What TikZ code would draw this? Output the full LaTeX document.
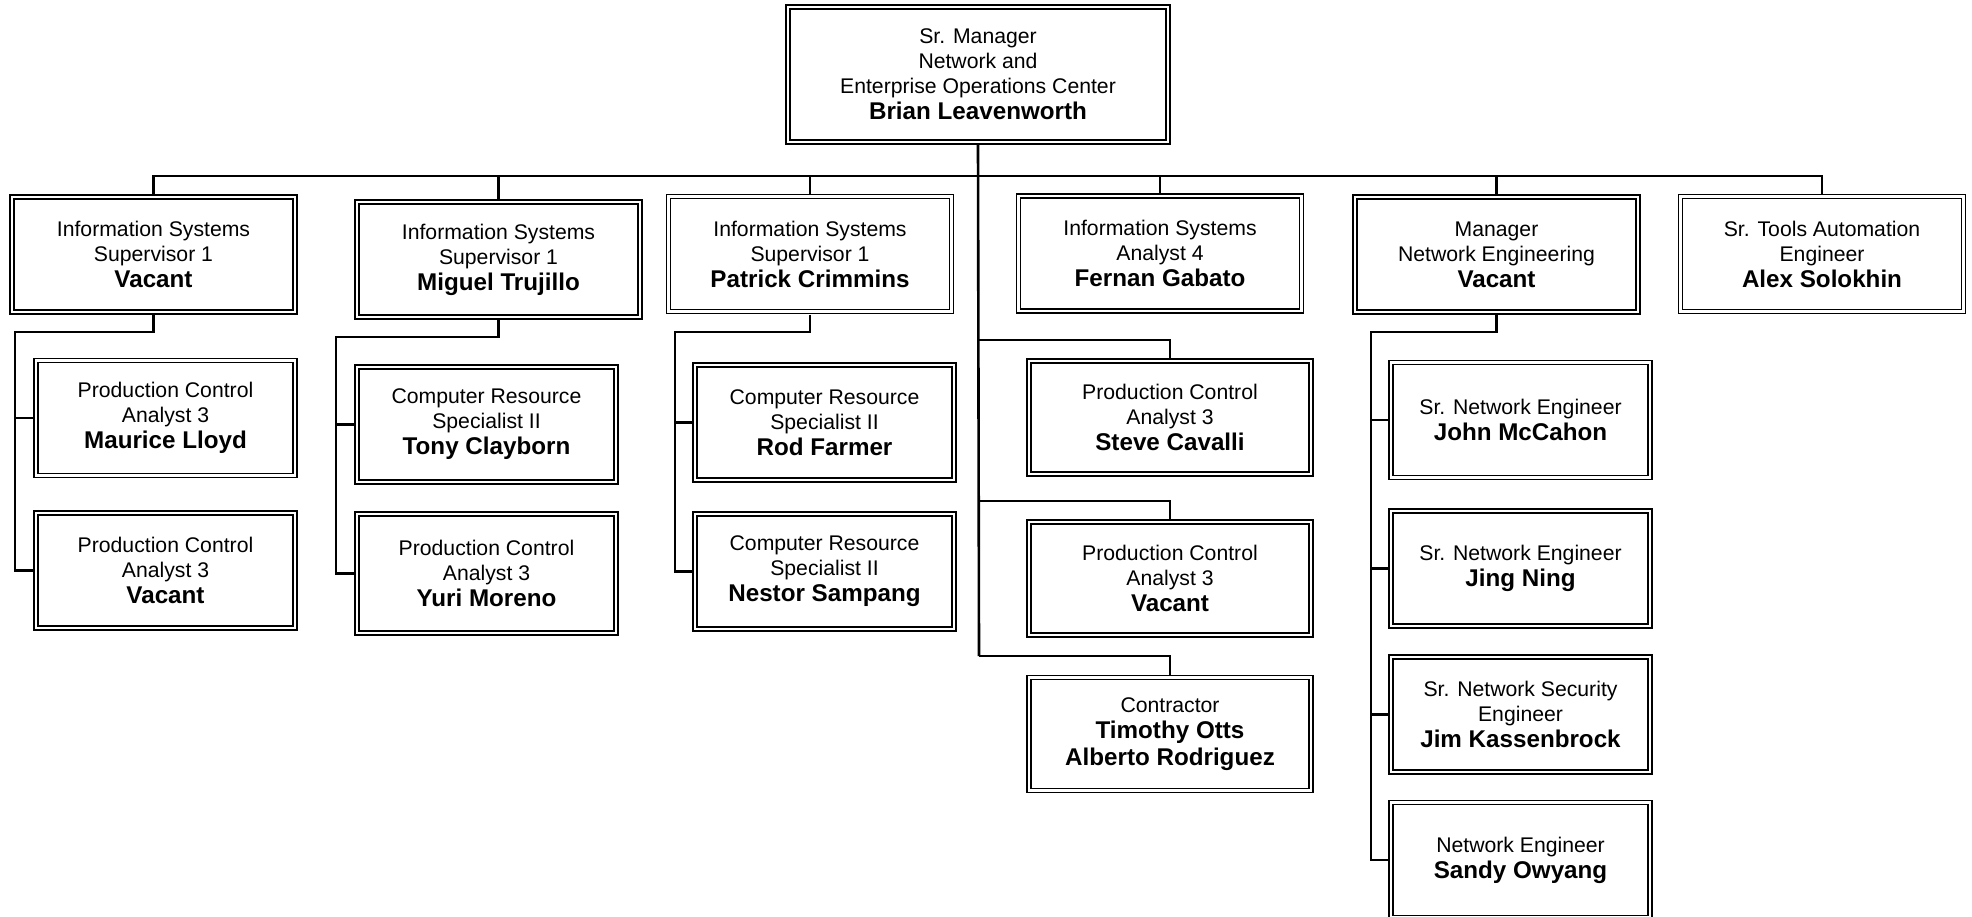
\documentclass[tikz,border=0pt]{standalone}
\usepackage{fontspec}
\setmainfont{Liberation Sans}
\usetikzlibrary{calc}
\newcommand{\who}[1]{{\fontsize{24.2}{25}\selectfont\bfseries #1}}

\begin{document}
\begin{tikzpicture}[x=1pt,y=-1pt,inner sep=1pt]
\tikzstyle{post}=[rectangle,draw,double,line width=1.7pt,double distance=2.4pt,outer sep=3pt,align=center,minimum width=283pt,minimum height=115pt,font=\fontsize{21.2}{25}\selectfont]
\tikzstyle{subpost}=[post,minimum width=259pt]
\tikzstyle{teampost}=[post,minimum width=282pt,minimum height=113pt]
\tikzstyle{link}=[line width=2.2pt]
\useasboundingbox (0,0) rectangle (1972,916);
% top
\node[post,minimum width=380pt,minimum height=135pt] (boss) at (978,74.5) {Sr. Manager\\Network and\\Enterprise Operations Center\\[1pt]\who{Brian Leavenworth}};
% first row
\node[post] (sup1) at (153.5,254.5) {Information Systems\\Supervisor 1\\[1pt]\who{Vacant}};
\node[post] (sup2) at (498.5,259.5) {Information Systems\\Supervisor 1\\[1pt]\who{Miguel Trujillo}};
\node[post] (sup3) at (810,254) {Information Systems\\Supervisor 1\\[1pt]\who{Patrick Crimmins}};
\node[post] (ana4) at (1160,253.5) {Information Systems\\Analyst 4\\[1pt]\who{Fernan Gabato}};
\node[post] (mgr) at (1496.5,254.5) {Manager\\Network Engineering\\[1pt]\who{Vacant}};
\node[post] (tools) at (1822,254) {Sr. Tools Automation\\Engineer\\[1pt]\who{Alex Solokhin}};
% staff
\node[subpost] (pc1) at (165.5,418) {Production Control\\Analyst 3\\[1pt]\who{Maurice Lloyd}};
\node[subpost] (pc2) at (165.5,570.5) {Production Control\\Analyst 3\\[1pt]\who{Vacant}};
\node[subpost] (crs1) at (486.5,424.5) {Computer Resource\\Specialist II\\[1pt]\who{Tony Clayborn}};
\node[subpost,minimum height=119pt] (pc3) at (486.5,573.5) {Production Control\\Analyst 3\\[1pt]\who{Yuri Moreno}};
\node[subpost] (crs2) at (824.5,422.5) {Computer Resource\\Specialist II\\[1pt]\who{Rod Farmer}};
\node[subpost] (crs3) at (824.5,571.5) {Computer Resource\\Specialist II\\[1pt]\who{Nestor Sampang}};
\node[teampost] (pc4) at (1170,417.5) {Production Control\\Analyst 3\\[1pt]\who{Steve Cavalli}};
\node[teampost] (pc5) at (1170,578.5) {Production Control\\Analyst 3\\[1pt]\who{Vacant}};
\node[teampost] (cont) at (1170,734) {Contractor\\[1pt]\who{Timothy Otts}\\[2pt]\who{Alberto Rodriguez}};
\node[subpost] (ne1) at (1520.5,420) {Sr. Network Engineer\\[1pt]\who{John McCahon}};
\node[subpost] (ne2) at (1520.5,568.5) {Sr. Network Engineer\\[1pt]\who{Jing Ning}};
\node[subpost] (ne3) at (1520.5,714.5) {Sr. Network Security\\Engineer\\[1pt]\who{Jim Kassenbrock}};
\node[subpost] (ne4) at (1520.5,860) {Network Engineer\\[1pt]\who{Sandy Owyang}};
% joints
\coordinate (bus) at (979,176);
\coordinate (j1) at (979,340);
\coordinate (j2) at (979,501);
\coordinate (j3) at (979,656);
\coordinate (b1) at (15,332);
\coordinate (b2) at (336,337);
\coordinate (b3) at (675,332);
\coordinate (b5) at (1371,332);
% lines
\draw[link,line width=2.6pt] (boss.south) -- (j3);
\draw[link] (sup1.north) |- (bus) -| (tools.north);
\foreach \n in {sup2,sup3,ana4,mgr}
  \draw[link] (\n.north) -- (\n.north |- bus);
\draw[link] (sup1.south) |- (b1) |- (pc2.west);
\draw[link] (b1) |- (pc1.west);
\draw[link] (sup2.south) |- (b2) |- (pc3.west);
\draw[link] (b2) |- (crs1.west);
\draw[link] (sup3.south) |- (b3) |- (crs3.west);
\draw[link] (b3) |- (crs2.west);
\draw[link] (j1) -| (pc4.north);
\draw[link] (j2) -| (pc5.north);
\draw[link] (j3) -| (cont.north);
\draw[link] (mgr.south) |- (b5) |- (ne4.west);
\foreach \n in {ne1,ne2,ne3}
  \draw[link] (b5) |- (\n.west);
\end{tikzpicture}
\end{document}
